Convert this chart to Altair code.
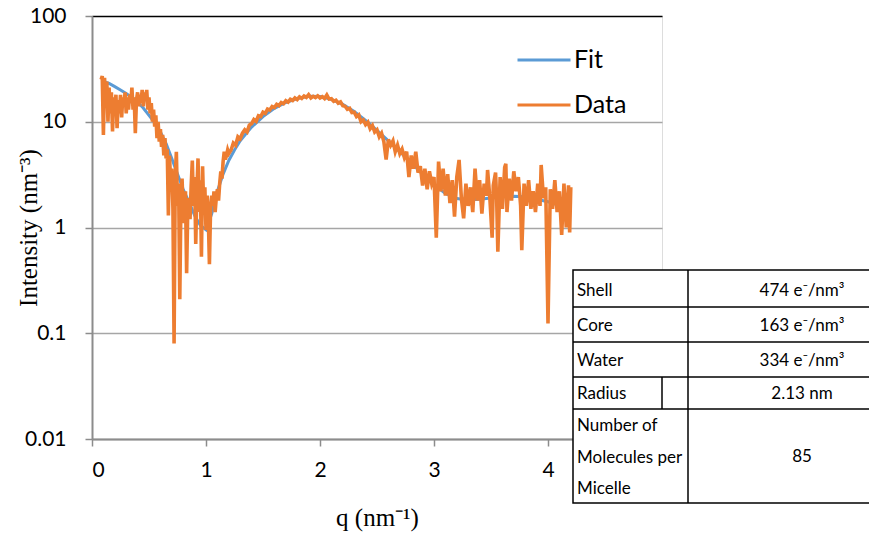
import altair as alt
import pandas as pd

# ---------------- data ----------------
fit_q = [0.10, 0.15, 0.20, 0.25, 0.30, 0.35, 0.40, 0.45, 0.50, 0.55, 0.60, 0.65, 0.70, 0.75,
         0.80, 0.85, 0.90, 0.95, 1.00, 1.05, 1.10, 1.15, 1.20, 1.25, 1.30, 1.35, 1.40, 1.50,
         1.60, 1.70, 1.80, 1.90, 2.00, 2.10, 2.20, 2.30, 2.40, 2.50, 2.60, 2.70, 2.80, 2.90,
         3.00, 3.10, 3.20, 3.30, 3.40, 3.50, 3.60, 3.70, 3.80, 3.90, 4.00, 4.10, 4.20]
fit_I = [24, 23, 21.5, 20, 18.5, 17, 15.3, 13.5, 11.5, 9.8, 8.0, 6.2, 4.5, 3.2,
         2.3, 1.75, 1.3, 1.05, 0.95, 1.35, 2.2, 3.2, 4.3, 5.4, 6.6, 7.7, 8.9, 11.2,
         13.4, 15.2, 16.6, 17.4, 17.3, 16.3, 14.6, 12.5, 10.3, 8.3, 6.6, 5.2, 4.1, 3.2,
         2.55, 2.1, 1.88, 1.82, 1.85, 1.9, 1.95, 1.97, 1.95, 1.85, 1.75, 1.62, 1.5]

data_q = [0.08, 0.09, 0.10, 0.11, 0.12, 0.13, 0.14, 0.15, 0.16, 0.17, 0.18, 0.19, 0.20, 0.21,
          0.22, 0.23, 0.24, 0.25, 0.26, 0.27, 0.28, 0.29, 0.30, 0.31, 0.32, 0.33, 0.34, 0.35,
          0.36, 0.37, 0.38, 0.39, 0.40, 0.41, 0.42, 0.43, 0.44, 0.45, 0.46, 0.47, 0.48, 0.49,
          0.50, 0.51, 0.52, 0.53, 0.54, 0.55, 0.56, 0.57, 0.58, 0.59, 0.60, 0.61, 0.62, 0.63,
          0.64, 0.65, 0.66, 0.67, 0.68, 0.69, 0.70, 0.71, 0.72, 0.73, 0.74, 0.75, 0.76, 0.77,
          0.78, 0.79, 0.80, 0.81, 0.82, 0.83, 0.84, 0.85, 0.86, 0.87, 0.88, 0.89, 0.90, 0.91,
          0.92, 0.93, 0.94, 0.95, 0.96, 0.97, 0.98, 0.99, 1.00, 1.01, 1.02, 1.03, 1.04, 1.05,
          1.06, 1.07, 1.08, 1.09, 1.10, 1.11, 1.12, 1.13, 1.14, 1.15, 1.16, 1.17, 1.18, 1.19,
          1.20, 1.22, 1.24, 1.26, 1.28, 1.30, 1.32, 1.34, 1.36, 1.38, 1.40, 1.42, 1.44, 1.46,
          1.48, 1.50, 1.52, 1.54, 1.56, 1.58, 1.60, 1.62, 1.64, 1.66, 1.68, 1.70, 1.72, 1.74,
          1.76, 1.78, 1.80, 1.82, 1.84, 1.86, 1.88, 1.90, 1.92, 1.94, 1.96, 1.98, 2.00, 2.02,
          2.04, 2.06, 2.08, 2.10, 2.12, 2.14, 2.16, 2.18, 2.20, 2.22, 2.24, 2.26, 2.28, 2.30,
          2.32, 2.34, 2.36, 2.38, 2.40, 2.42, 2.44, 2.46, 2.48, 2.50, 2.52, 2.54, 2.56, 2.58,
          2.60, 2.62, 2.64, 2.66, 2.68, 2.70, 2.72, 2.74, 2.76, 2.78, 2.80, 2.82, 2.84, 2.86,
          2.88, 2.90, 2.92, 2.94, 2.96, 2.98, 3.00, 3.02, 3.04, 3.06, 3.08, 3.10, 3.12, 3.14,
          3.16, 3.18, 3.20, 3.22, 3.24, 3.26, 3.28, 3.30, 3.32, 3.34, 3.36, 3.38, 3.40, 3.42,
          3.44, 3.46, 3.47, 3.49, 3.51, 3.52, 3.54, 3.55, 3.56, 3.58, 3.60, 3.62, 3.63, 3.64,
          3.66, 3.68, 3.70, 3.72, 3.74, 3.76, 3.77, 3.79, 3.81, 3.83, 3.85, 3.87, 3.89, 3.91,
          3.93, 3.94, 3.96, 3.98, 4.00, 4.02, 4.04, 4.06, 4.08, 4.10, 4.12, 4.14, 4.16, 4.18,
          4.19, 4.20]
data_I = [25, 27, 7.5, 26, 14, 24, 10, 21, 12, 19, 8.1, 17, 13, 18,
          8.7, 16, 12, 18, 11, 17, 14, 19, 12, 17, 13, 18, 15, 21,
          13, 17, 7.8, 16, 19, 14, 18, 15, 20, 14, 19, 16, 20, 13,
          17, 12, 15, 10, 13, 9, 11.5, 7, 10, 6.5, 8.5, 5.8, 7.5, 4.8,
          7.0, 4.5, 5.5, 1.3, 4.8, 2.6, 3.6, 1.5, 0.08, 3.0, 5.2, 1.6, 2.6, 0.21,
          1.8, 2.9, 1.4, 1.1, 2.2, 0.37, 1.5, 1.9, 1.2, 2.5, 4.3, 1.6, 3.0, 0.7,
          2.2, 4.5, 1.4, 2.8, 0.53, 3.8, 1.5, 2.4, 0.95, 2.0, 1.3, 0.45, 1.5, 2.0,
          1.6, 2.2, 1.4, 1.9, 2.3, 1.8, 2.6, 3.4, 2.9, 4.2, 5.2, 4.4, 4.8, 5.4,
          5.0, 5.4, 6.3, 6.0, 7.2, 6.9, 7.8, 8.4, 8.0, 9.3, 9.6, 10.5, 10.1, 11.4,
          11.2, 12.3, 12.0, 13.2, 12.9, 13.9, 13.6, 14.6, 14.2, 15.2, 14.8, 15.8, 15.3, 16.3,
          15.9, 16.8, 16.2, 17.2, 16.6, 17.5, 17.0, 18.0, 16.8, 17.4, 16.9, 17.6, 16.8, 17.3,
          16.6, 17.9, 16.4, 16.5, 15.6, 16.0, 15.0, 15.4, 14.2, 14.0, 13.1, 13.4, 12.2, 12.3,
          11.2, 11.6, 10.0, 10.4, 9.4, 9.9, 8.6, 9.2, 8.0, 8.4, 7.2, 7.8, 6.5, 4.4,
          6.8, 6.0, 6.6, 5.2, 6.0, 5.0, 5.5, 4.6, 5.2, 3.0, 4.8, 3.6, 5.2, 3.3,
          3.8, 2.5, 3.6, 2.3, 3.4, 2.6, 3.0, 0.8, 4.2, 2.2, 3.6, 2.0, 3.2, 1.7,
          2.8, 1.27, 3.0, 4.35, 1.9, 1.22, 2.6, 1.6, 2.4, 1.4, 3.6, 1.8, 2.8, 1.35,
          2.6, 2.0, 3.5, 1.9, 0.8, 2.5, 3.3, 1.8, 0.59, 3.0, 1.5, 3.7, 4.0, 1.4,
          2.9, 1.8, 3.4, 2.2, 3.0, 1.6, 0.61, 2.6, 1.6, 2.8, 1.5, 2.2, 1.4, 2.6,
          1.6, 3.9, 1.9, 2.4, 0.124, 2.3, 1.5, 2.8, 1.4, 2.2, 0.85, 2.6, 1.0, 2.5,
          0.9, 2.4]

series_names = ["Fit", "Data"]
series_colors = ["#5B9BD5", "#ED7D31"]
x_ticks = [0, 1, 2, 3, 4]
y_ticks = [0.01, 0.1, 1, 10, 100]

table_labels = [["Shell"], ["Core"], ["Water"], ["Radius"],
                ["Number of", "Molecules per", "Micelle"]]
table_values = ["474 e\u207b/nm\u00b3", "163 e\u207b/nm\u00b3", "334 e\u207b/nm\u00b3",
                "2.13 nm", "85"]

# ---------------- layout ----------------
W, H = 570, 423
FONT = "Lato"
GRAY = "#8C8C8C"

fit_df = pd.DataFrame({"q": fit_q, "I": fit_I, "series": series_names[0]})
data_df = pd.DataFrame({"q": data_q, "I": data_I, "series": series_names[1]})
one = pd.DataFrame({"k": [0]})

x_enc = alt.X("q:Q", scale=alt.Scale(domain=[0, 5], nice=False),
              axis=alt.Axis(values=x_ticks, format="d", title="q (nm\u207b\u00b9)",
                            grid=False, labelFont=FONT, labelFontSize=21, labelColor="black",
                            labelPadding=13, tickSize=7, tickColor=GRAY, tickWidth=1.5,
                            domainColor=GRAY, domainWidth=2,
                            titleFont="Liberation Serif", titleFontSize=25,
                            titleFontWeight="normal", titleColor="black",
                            titleX=W / 2, titleY=78, titleBaseline="middle",
                            titleAlign="center"))
y_enc = alt.Y("I:Q", scale=alt.Scale(type="log", domain=[0.01, 100], nice=False),
              axis=alt.Axis(values=y_ticks, format="~g", title="Intensity (nm\u207b\u00b3)",
                            labelFont=FONT, labelFontSize=21, labelColor="black",
                            labelPadding=19, tickSize=7, tickColor=GRAY, tickWidth=1.5,
                            domainColor=GRAY, domainWidth=2,
                            gridColor={"condition": {"test": "datum.value >= 100",
                                                     "value": "black"},
                                       "value": "#A6A6A6"},
                            gridWidth=1.5,
                            titleFont="Liberation Serif", titleFontSize=25,
                            titleFontWeight="normal", titleColor="black",
                            titleAngle=270, titleX=-64, titleY=H / 2,
                            titleBaseline="middle", titleAlign="center"))
color_enc = alt.Color("series:N", scale=alt.Scale(domain=series_names, range=series_colors),
                      legend=alt.Legend(orient="none", legendX=424, legendY=16,
                                        direction="vertical", title=None,
                                        symbolType="stroke", symbolSize=2809,
                                        symbolStrokeWidth=3, labelFont=FONT,
                                        labelFontSize=25, labelColor="black",
                                        labelOffset=2, rowPadding=4, padding=0))

fit_line = alt.Chart(fit_df).mark_line(strokeWidth=3).encode(x=x_enc, y=y_enc, color=color_enc)
data_line = alt.Chart(data_df).mark_line(strokeWidth=3.6).encode(x=x_enc, y=y_enc, color=color_enc)

# table (overlay, in pixel coordinates relative to the plot origin)
T_LEFT, T_RIGHT, T_TOP, T_BOTTOM = 481, 783, 254, 487
COL_DIV = 596
RADIUS_DIV = 570
row_lines = [291, 326, 361, 393]
row_edges = [T_TOP] + row_lines + [T_BOTTOM]

layers = [fit_line, data_line]
layers.append(alt.Chart(one).mark_rect(fill="white", stroke="black", strokeWidth=1.5)
              .encode(x=alt.value(T_LEFT), x2=alt.value(T_RIGHT),
                      y=alt.value(T_TOP), y2=alt.value(T_BOTTOM)))
for ly in row_lines:
    layers.append(alt.Chart(one).mark_rule(color="black", strokeWidth=1.5)
                  .encode(x=alt.value(T_LEFT), x2=alt.value(T_RIGHT), y=alt.value(ly)))
layers.append(alt.Chart(one).mark_rule(color="black", strokeWidth=1.5)
              .encode(x=alt.value(COL_DIV), y=alt.value(T_TOP), y2=alt.value(T_BOTTOM)))
layers.append(alt.Chart(one).mark_rule(color="black", strokeWidth=1.5)
              .encode(x=alt.value(RADIUS_DIV), y=alt.value(row_lines[2]), y2=alt.value(row_lines[3])))

label_y_offsets = [[21], [19], [19], [17], [17, 49, 80]]
for i, (labs, val) in enumerate(zip(table_labels, table_values)):
    top = row_edges[i]
    for lab, dy in zip(labs, label_y_offsets[i]):
        layers.append(alt.Chart(one).mark_text(text=lab, font=FONT, fontSize=17,
                                               color="black", align="left",
                                               baseline="middle")
                      .encode(x=alt.value(T_LEFT + 4), y=alt.value(top + dy)))
    mid = (row_edges[i] + row_edges[i + 1]) / 2 + (2 if i == 0 else 1)
    layers.append(alt.Chart(one).mark_text(text=val, font=FONT, fontSize=17,
                                           color="black", align="center",
                                           baseline="middle")
                  .encode(x=alt.value(710), y=alt.value(mid)))

chart = alt.layer(*layers).properties(
    width=W, height=H,
    padding={"left": 92, "top": 16, "right": 207, "bottom": 94},
    autosize=alt.AutoSizeParams(type="none"),
).configure_view(stroke="black", strokeWidth=1.5).configure(background="white")

chart.save("out.html", embed_options={"renderer": "svg", "actions": False})
